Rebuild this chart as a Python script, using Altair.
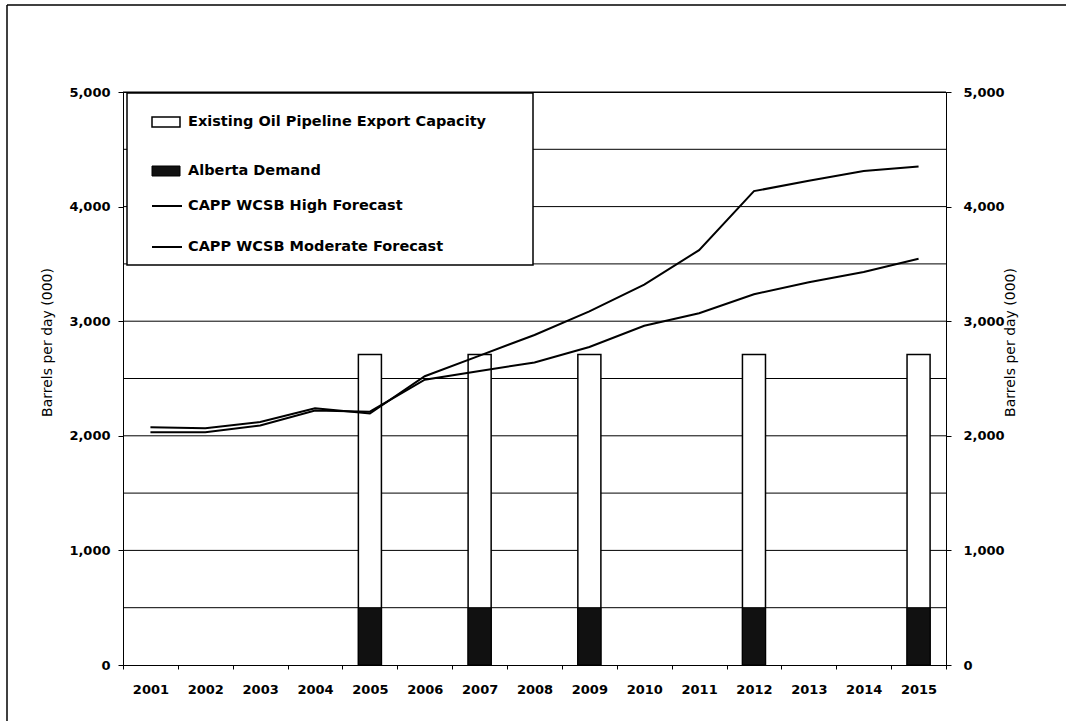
import altair as alt
import pandas as pd

# Forecast years on the category axis
years = ["2001", "2002", "2003", "2004", "2005", "2006", "2007", "2008",
         "2009", "2010", "2011", "2012", "2013", "2014", "2015"]

# CAPP WCSB supply forecasts, thousand barrels per day
high_forecast = [2075, 2065, 2120, 2240, 2195, 2520, 2700, 2880,
                 3085, 3320, 3620, 4135, 4225, 4310, 4350]
moderate_forecast = [2030, 2030, 2090, 2220, 2210, 2490, 2565, 2640,
                     2775, 2960, 3070, 3235, 3340, 3430, 3545]

# Years with capacity / demand bars
bar_years = ["2005", "2007", "2009", "2012", "2015"]
export_capacity = [2710, 2710, 2710, 2710, 2710]
alberta_demand = [500, 500, 500, 500, 500]

# Horizontal gridlines
grid_values = [500, 1000, 1500, 2000, 2500, 3000, 3500, 4000, 4500, 5000]
axis_values = [0, 1000, 2000, 3000, 4000, 5000]

legend_labels = ["Existing Oil Pipeline Export Capacity", "Alberta Demand",
                 "CAPP WCSB High Forecast", "CAPP WCSB Moderate Forecast"]
y_title = "Barrels per day (000)"

W, H = 823, 573
PAD_L, PAD_T = 123, 92
FONT = "DejaVu Sans"

lines_df = pd.DataFrame({"year": years, "high": high_forecast, "moderate": moderate_forecast})
bars_df = pd.DataFrame({"year": bar_years, "capacity": export_capacity, "demand": alberta_demand})
grid_df = pd.DataFrame({"v": grid_values})
one = pd.DataFrame({"k": [0]})


def y_scale():
    return alt.Scale(domain=[0, 5000], nice=False, zero=True)


def value_axis(orient, title_x, pad):
    return alt.Axis(orient=orient, values=axis_values, format=",.0f", grid=False,
                    tickSize=5, labelPadding=pad, domainColor="black", tickColor="black",
                    title=y_title, titleX=title_x, titleY=250, titleAngle=270,
                    titleAlign="center", titleBaseline="middle")


x_enc = alt.X(
    "year:N",
    sort=years,
    scale=alt.Scale(domain=years, paddingInner=0, paddingOuter=0),
    axis=alt.Axis(labelAngle=0, tickBand="extent", tickSize=4, labelPadding=14,
                  domainColor="black", tickColor="black", title=None, grid=False),
)

grid = alt.Chart(grid_df).mark_rule(color="black", strokeWidth=1).encode(
    y=alt.Y("v:Q", scale=y_scale(), axis=value_axis("left", -76, 8))
)

cap_bars = alt.Chart(bars_df).mark_bar(
    width=alt.RelativeBandSize(0.42), fill="white", stroke="black", strokeWidth=1.5
).encode(x=x_enc, y=alt.Y("capacity:Q", scale=y_scale(), axis=None))

demand_bars = alt.Chart(bars_df).mark_bar(
    width=alt.RelativeBandSize(0.42), fill="#111111", stroke="black", strokeWidth=1
).encode(x=x_enc, y=alt.Y("demand:Q", scale=y_scale(), axis=None))

high_line = alt.Chart(lines_df).mark_line(color="black", strokeWidth=2).encode(
    x=x_enc, y=alt.Y("high:Q", scale=y_scale(), axis=None)
)
mod_line = alt.Chart(lines_df).mark_line(color="black", strokeWidth=2).encode(
    x=x_enc, y=alt.Y("moderate:Q", scale=y_scale(), axis=None)
)

# Legend box drawn inside the plot's upper-left corner
legend_box = alt.Chart(one).mark_rect(fill="white", stroke="black", strokeWidth=1.5).encode(
    x=alt.value(4), x2=alt.value(410), y=alt.value(1), y2=alt.value(173)
)
sym_cap = alt.Chart(one).mark_rect(fill="white", stroke="black", strokeWidth=1.5).encode(
    x=alt.value(29), x2=alt.value(57), y=alt.value(25), y2=alt.value(35)
)
sym_dem = alt.Chart(one).mark_rect(fill="#111111", stroke="black", strokeWidth=1).encode(
    x=alt.value(29), x2=alt.value(57), y=alt.value(74), y2=alt.value(84)
)
sym_high = alt.Chart(one).mark_rule(color="black", strokeWidth=2).encode(
    x=alt.value(29), x2=alt.value(59), y=alt.value(114)
)
sym_mod = alt.Chart(one).mark_rule(color="black", strokeWidth=2).encode(
    x=alt.value(29), x2=alt.value(59), y=alt.value(155)
)
legend_rows = [30, 79, 114, 155]
legend_texts = [
    alt.Chart(one).mark_text(align="left", baseline="middle", font=FONT, fontSize=14.5,
                             fontWeight="bold", color="black", text=lab).encode(
        x=alt.value(65), y=alt.value(yy))
    for lab, yy in zip(legend_labels, legend_rows)
]

# Outer frame lines
frame_top = alt.Chart(one).mark_rule(color="black", strokeWidth=1.5).encode(
    x=alt.value(7 - PAD_L), x2=alt.value(1066 - PAD_L), y=alt.value(5 - PAD_T)
)
frame_left = alt.Chart(one).mark_rule(color="black", strokeWidth=1.5).encode(
    x=alt.value(7 - PAD_L), y=alt.value(5 - PAD_T), y2=alt.value(721 - PAD_T)
)

right_axis = alt.Chart(grid_df).mark_rule(strokeOpacity=0).encode(
    y=alt.Y("v:Q", scale=y_scale(), axis=value_axis("right", 64, 12))
)

chart = alt.layer(
    grid, cap_bars, demand_bars, high_line, mod_line,
    legend_box, sym_cap, sym_dem, sym_high, sym_mod, *legend_texts,
    frame_top, frame_left, right_axis,
).resolve_scale(y="independent").resolve_axis(y="independent").properties(
    width=W, height=H,
    autosize=alt.AutoSizeParams(type="none"),
    padding={"left": PAD_L, "top": PAD_T, "right": 1066 - PAD_L - W, "bottom": 721 - PAD_T - H},
    background="white",
).configure_view(stroke="black", strokeWidth=1).configure_axis(
    labelFont=FONT, labelFontSize=13, labelFontWeight="bold", labelColor="black",
    titleFont=FONT, titleFontSize=14, titleFontWeight="normal", titleColor="black",
)

chart.save("out.html", embed_options={"renderer": "svg", "actions": False})
